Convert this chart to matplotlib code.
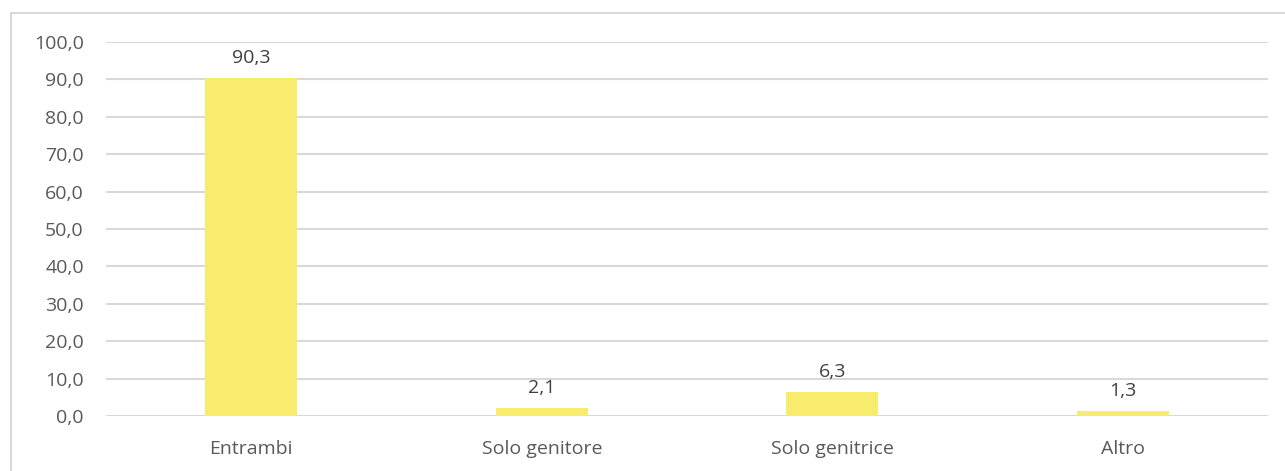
import numpy as np
import matplotlib.pyplot as plt
from matplotlib.lines import Line2D

categories = ["Entrambi", "Solo genitore", "Solo genitrice", "Altro"]
values = [90.3, 2.1, 6.3, 1.3]
yticks = [0, 10, 20, 30, 40, 50, 60, 70, 80, 90, 100]

W, H = 1285, 471
plt.rcParams["font.family"] = ["Open Sans", "DejaVu Sans"]
fig = plt.figure(figsize=(W / 100, H / 100), dpi=100)
ax = fig.add_axes([106 / W, 1 - 416 / H, (1268 - 106) / W, (416 - 42) / H])

x = np.arange(len(categories))
bars = ax.bar(x, values, width=0.317, color="#F7EC6E", zorder=3)
for b, v in zip(bars, values):
    ax.text(b.get_x() + b.get_width() / 2, v + 3, f"{v:.1f}".replace(".", ","),
            ha="center", va="bottom", fontsize=14, color="#404040")

ax.set_xlim(-0.5, len(categories) - 0.5)
ax.set_ylim(0, 100)
ax.set_yticks(yticks)
ax.set_yticklabels([f"{t:.1f}".replace(".", ",") for t in yticks])
ax.set_xticks(x)
ax.set_xticklabels(categories)
ax.tick_params(axis="both", length=0, labelsize=14, labelcolor="#595959")
ax.tick_params(axis="y", pad=16)
ax.tick_params(axis="x", pad=17)
ax.grid(axis="y", color="#D9D9D9", linewidth=1.5, zorder=0)
for s in ax.spines.values():
    s.set_visible(False)

# chart border (only top and left visible in the crop)
fig.add_artist(Line2D([11 / W, 1.0], [1 - 13 / H, 1 - 13 / H], color="#D9D9D9", linewidth=1.5))
fig.add_artist(Line2D([11 / W, 11 / W], [0, 1 - 13 / H], color="#D9D9D9", linewidth=1.5))

fig.savefig("out.png", dpi=100)
